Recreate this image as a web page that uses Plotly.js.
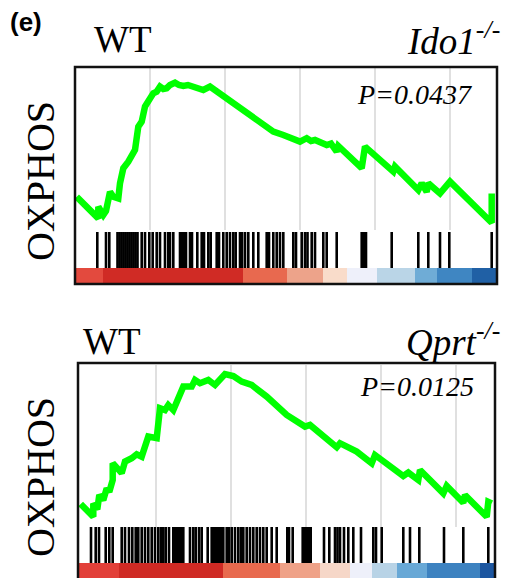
<!DOCTYPE html>
<html>
<head>
<meta charset="utf-8">
<script src="https://cdn.plot.ly/plotly-3.0.1.min.js"></script>
<style>html,body{margin:0;padding:0;background:#fff;}#chart{width:506px;height:578px;}</style>
</head>
<body>
<div id="chart"></div>
<script>
// ---------- DATA ----------
// Panel 1: WT vs Ido1-/-  (gene rank, running enrichment score)
const p1Rank = [17,233,233,283,310,350,383,433,450,483,533,567,600,633,667,700,733,783,817,850,883,917,950,1000,1040,1083,1130,1183,1230,1283,1350,1517,1683,1850,1983,2083,2183,2250,2317,2360,2400,2450,2517,2560,2617,2633,2867,2900,3183,3200,3433,3467,3500,3517,3533,3600,3650,3750,4167,4167];
const p1ES   = [-0.044,-0.152,-0.094,-0.135,-0.115,-0.019,-0.044,-0.052,0.024,0.099,0.132,0.157,0.190,0.307,0.332,0.407,0.432,0.474,0.482,0.507,0.495,0.499,0.515,0.527,0.515,0.510,0.515,0.507,0.495,0.490,0.507,0.449,0.382,0.324,0.282,0.265,0.240,0.232,0.249,0.235,0.240,0.228,0.215,0.222,0.182,0.210,0.099,0.207,0.082,0.107,-0.010,0.024,-0.005,-0.019,0.024,-0.012,-0.027,0.032,-0.174,-0.027];
const p1Hits = [223,310,343,425,445,465,485,505,525,545,565,585,605,625,667,700,743,777,817,850,900,933,950,983,1050,1070,1090,1110,1150,1170,1223,1267,1290,1333,1357,1417,1440,1483,1517,1550,1583,1607,1650,1670,1700,1733,1783,1833,1917,1940,1983,2017,2050,2083,2183,2210,2267,2300,2325,2367,2400,2483,2517,2617,2867,2890,2910,3167,3433,3533,3650,3743,4167];
const p1BarEdges  = [0,283,1683,2117,2483,2717,3017,3400,3617,3967,4220];
const p1BarLevels = [0,1,2,3,4,5,6,7,8,9];
const p1Pval = "P=0.0437";

// Panel 2: WT vs Qprt-/-
const p2Rank = [-3,123,123,163,183,223,257,283,317,317,407,440,507,557,607,623,673,757,790,840,873,923,973,1023,1107,1140,1190,1273,1340,1440,1523,1607,1707,1857,2057,2140,2240,2290,2457,2557,2590,2757,2907,2940,3223,3273,3373,3390,3623,3657,3823,3840,4057,4073,4107];
const p2ES   = [-0.095,-0.159,-0.092,-0.122,-0.050,-0.075,-0.017,-0.034,0.025,0.109,0.059,0.117,0.134,0.154,0.142,0.167,0.242,0.234,0.384,0.375,0.400,0.375,0.425,0.492,0.492,0.525,0.509,0.525,0.500,0.555,0.545,0.517,0.500,0.442,0.350,0.325,0.292,0.300,0.225,0.189,0.209,0.167,0.109,0.150,0.045,0.062,0.025,0.075,-0.042,-0.005,-0.089,-0.050,-0.159,-0.084,-0.092];
const p2Hits = [100,147,180,247,283,317,407,440,480,513,547,573,607,640,673,707,740,773,800,823,847,880,923,943,963,983,1003,1023,1090,1123,1147,1180,1207,1267,1307,1327,1347,1367,1387,1407,1423,1457,1480,1507,1540,1573,1600,1623,1657,1690,1723,1757,1790,1823,1857,1907,1957,2063,2080,2117,2217,2237,2257,2277,2297,2430,2483,2540,2565,2590,2630,2673,2723,2800,2923,2950,3007,3223,3290,3383,3630,3823,4073];
const p2BarEdges  = [-30,380,1423,1990,2390,2690,2907,3157,3457,3990,4140];
const p2BarLevels = [0,1,2,3,4,5,6,7,8,9];
const p2Pval = "P=0.0125";

const gridTicks = [750,1500,2250,3000,3750];

// ---------- STYLE ----------
const barColors1 = ['#e34a3e','#d02b25','#e8694f','#eda38a','#f9dcca','#eef0fa','#bad5e7','#6facd6','#3f86c2','#2060a5'];
const barColors2 = ['#e24039','#cf2a24','#e86a4e','#efa288','#f6d7c8','#eef0fa','#b8d3e6','#68a8d6','#3d82c0','#1c56a0'];
const serif = '"Liberation Serif", "Times New Roman", Times, serif';
const H = 578;
const py = v => 1 - v / H;   // pixel row -> paper fraction

function stepScale(cols){
  const n = cols.length, s = [];
  cols.forEach((c,i)=>{ s.push([i/n, c]); s.push([(i+1)/n, c]); });
  return s;
}
function hitLines(hits){
  const x=[], y=[];
  hits.forEach(h=>{ x.push(h,h,null); y.push(0,1,null); });
  return {x, y};
}

const h1 = hitLines(p1Hits), h2 = hitLines(p2Hits);
const green = '#00ff00';
const traces = [
  {type:'scatter', mode:'lines', x:p1Rank, y:p1ES, xaxis:'x', yaxis:'y',
   line:{color:green, width:6.5}, hoverinfo:'skip'},
  {type:'scatter', mode:'lines', x:h1.x, y:h1.y, xaxis:'x2', yaxis:'y2',
   line:{color:'#000', width:2.6}, hoverinfo:'skip'},
  {type:'heatmap', x:p1BarEdges, y:[0,1], z:[p1BarLevels], xaxis:'x2', yaxis:'y3',
   colorscale:stepScale(barColors1), zmin:-0.5, zmax:barColors1.length-0.5, showscale:false, hoverinfo:'skip'},
  {type:'scatter', mode:'lines', x:p2Rank, y:p2ES, xaxis:'x3', yaxis:'y4',
   line:{color:green, width:6.5}, hoverinfo:'skip'},
  {type:'scatter', mode:'lines', x:h2.x, y:h2.y, xaxis:'x4', yaxis:'y5',
   line:{color:'#000', width:2.6}, hoverinfo:'skip'},
  {type:'heatmap', x:p2BarEdges, y:[0,1], z:[p2BarLevels], xaxis:'x4', yaxis:'y6',
   colorscale:stepScale(barColors2), zmin:-0.5, zmax:barColors2.length-0.5, showscale:false, hoverinfo:'skip'}
];

const xd1 = [75/506, 497/506], xd2 = [78/506, 495/506];
const xr1 = [0, 4220], xr2 = [-30, 4140];
const baseX = {showticklabels:false, ticks:'', zeroline:false, showline:false, fixedrange:true};
const baseY = {showticklabels:false, ticks:'', zeroline:false, showline:false, showgrid:false, fixedrange:true};

const layout = {
  width:506, height:578, margin:{l:0,r:0,t:0,b:0},
  paper_bgcolor:'#fff', plot_bgcolor:'rgba(0,0,0,0)', showlegend:false,
  xaxis:  Object.assign({}, baseX, {domain:xd1, range:xr1, anchor:'y', showgrid:true, tickvals:gridTicks, gridcolor:'#e0e0e0', gridwidth:2.5}),
  xaxis2: Object.assign({}, baseX, {domain:xd1, range:xr1, anchor:'y2', showgrid:false}),
  xaxis3: Object.assign({}, baseX, {domain:xd2, range:xr2, anchor:'y4', showgrid:true, tickvals:gridTicks, gridcolor:'#e0e0e0', gridwidth:2.5}),
  xaxis4: Object.assign({}, baseX, {domain:xd2, range:xr2, anchor:'y5', showgrid:false}),
  yaxis:  Object.assign({}, baseY, {domain:[py(230), py(68)], range:[-0.21, 0.6], anchor:'x'}),
  yaxis2: Object.assign({}, baseY, {domain:[py(268), py(232)], range:[0,1], anchor:'x2'}),
  yaxis3: Object.assign({}, baseY, {domain:[py(284), py(268)], range:[0,1], anchor:'x2'}),
  yaxis4: Object.assign({}, baseY, {domain:[py(527), py(365)], range:[-0.21, 0.6], anchor:'x3'}),
  yaxis5: Object.assign({}, baseY, {domain:[py(563), py(527)], range:[0,1], anchor:'x4'}),
  yaxis6: Object.assign({}, baseY, {domain:[0, py(563)], range:[0,1], anchor:'x4'}),
  shapes: [
    {type:'rect', xref:'paper', yref:'paper', x0:75/506, x1:497/506, y0:py(284), y1:py(67), line:{color:'#111', width:2.5}, fillcolor:'rgba(0,0,0,0)', layer:'above'},
    {type:'rect', xref:'paper', yref:'paper', x0:78/506, x1:495/506, y0:py(590), y1:py(363), line:{color:'#111', width:2.5}, fillcolor:'rgba(0,0,0,0)', layer:'above'}
  ],
  annotations: [
    {text:'<b>(e)</b>', xref:'paper', yref:'paper', x:8/506, y:py(22), xanchor:'left', yanchor:'middle', showarrow:false, font:{family:'Liberation Sans, Arial, sans-serif', size:26, color:'#000'}},
    {text:'WT', xref:'paper', yref:'paper', x:92/506, y:py(40), xanchor:'left', yanchor:'middle', showarrow:false, font:{family:serif, size:37, color:'#000'}},
    {text:'<i>Ido1</i><sup><i>-/-</i></sup>', xref:'paper', yref:'paper', x:502/506, y:py(38), xanchor:'right', yanchor:'middle', showarrow:false, font:{family:serif, size:37, color:'#000'}},
    {text:'<i>'+p1Pval+'</i>', xref:'paper', yref:'paper', x:355/506, y:py(95), xanchor:'left', yanchor:'middle', showarrow:false, font:{family:serif, size:28, color:'#000'}},
    {text:'OXPHOS', xref:'paper', yref:'paper', x:40/506, y:py(181), xanchor:'center', yanchor:'middle', textangle:-90, showarrow:false, font:{family:serif, size:40, color:'#000'}},
    {text:'WT', xref:'paper', yref:'paper', x:81/506, y:py(341), xanchor:'left', yanchor:'middle', showarrow:false, font:{family:serif, size:37, color:'#000'}},
    {text:'<i>Qprt</i><sup><i>-/-</i></sup>', xref:'paper', yref:'paper', x:502/506, y:py(339), xanchor:'right', yanchor:'middle', showarrow:false, font:{family:serif, size:37, color:'#000'}},
    {text:'<i>'+p2Pval+'</i>', xref:'paper', yref:'paper', x:358/506, y:py(386), xanchor:'left', yanchor:'middle', showarrow:false, font:{family:serif, size:28, color:'#000'}},
    {text:'OXPHOS', xref:'paper', yref:'paper', x:40/506, y:py(477), xanchor:'center', yanchor:'middle', textangle:-90, showarrow:false, font:{family:serif, size:40, color:'#000'}}
  ]
};

Plotly.newPlot('chart', traces, layout, {displayModeBar:false, staticPlot:true});
</script>
</body>
</html>
